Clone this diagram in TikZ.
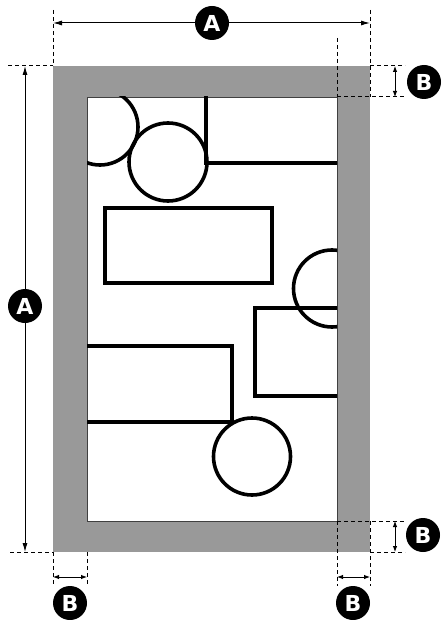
\documentclass[tikz,border=0pt]{standalone}
\usepackage{fontspec}
\setsansfont{DejaVu Sans}
\usetikzlibrary{arrows.meta}
\definecolor{framegray}{RGB}{153,153,153}
\begin{document}
\begin{tikzpicture}[x=1pt,y=-1pt,
  dimline/.style={line width=1pt,{Latex[length=9pt,width=5pt]}-{Latex[length=9pt,width=5pt]}},
  smalldim/.style={line width=0.9pt,{Latex[length=6pt,width=4.5pt]}-{Latex[length=6pt,width=4.5pt]}},
  extline/.style={line width=1pt,dash pattern=on 4pt off 3pt},
  badge/.style={circle,fill=black,text=white,minimum size=34pt,inner sep=0pt,
    font=\sffamily\bfseries\fontsize{22}{22}\selectfont},
  figline/.style={line width=3.6pt}]
\useasboundingbox (0,0) rectangle (446,620);
% frame
\coordinate (OTL) at (53,66);
\coordinate (OBR) at (370,552);
\coordinate (ITL) at (87,97);
\coordinate (IBR) at (337,521);
\fill[framegray] (OTL) rectangle (OBR);
\filldraw[fill=white,draw=black!75,line width=0.9pt] (ITL) rectangle (IBR);
% contents
\begin{scope}
  \clip (ITL) rectangle (IBR);
  \draw[figline] (100,127) circle (38);
  \draw[figline] (168,162) circle (39);
  \draw[figline] (206,95) -- (206,163) -- (339,163);
  \draw[figline] (105,208) rectangle (272,283);
  \draw[figline] (332,288.5) circle (38.5);
  \draw[figline] (339,308) -- (255,308) -- (255,396) -- (339,396);
  \draw[figline] (85,346) -- (232,346) -- (232,422) -- (85,422);
  \draw[figline] (252,456.5) circle (38.5);
\end{scope}
% extension lines
\coordinate (e1a) at (53,10);   \coordinate (e1b) at (53,66);
\coordinate (e2a) at (370,10);  \coordinate (e2b) at (370,97);
\coordinate (e3a) at (337,38);  \coordinate (e3b) at (337,97);
\coordinate (e4a) at (8,66);    \coordinate (e4b) at (405,66);
\coordinate (e5a) at (337,97);  \coordinate (e5b) at (405,97);
\coordinate (e6a) at (337,521); \coordinate (e6b) at (405,521);
\coordinate (e7a) at (10,552);  \coordinate (e7b) at (405,552);
\coordinate (e8a) at (53,552);  \coordinate (e8b) at (53,586);
\coordinate (e9a) at (87,521);  \coordinate (e9b) at (87,586);
\coordinate (e10a) at (337,521);\coordinate (e10b) at (337,586);
\coordinate (e11a) at (370,521);\coordinate (e11b) at (370,586);
\draw[extline] (e1a) -- (e1b);
\draw[extline] (e2a) -- (e2b);
\draw[extline] (e3a) -- (e3b);
\draw[extline] (e4a) -- (OTL);
\draw[extline] (370,66) -- (e4b);
\draw[extline] (e5a) -- (e5b);
\draw[extline] (e6a) -- (e6b);
\draw[extline] (e7a) -- (53,552);
\draw[extline] (OBR) -- (e7b);
\draw[extline] (e8a) -- (e8b);
\draw[extline] (87,552) -- (e9b);
\draw[extline] (e10a) -- (e10b);
\draw[extline] (e11a) -- (e11b);
% dimension arrows
\coordinate (a1) at (53,23);  \coordinate (a2) at (370,23);
\coordinate (a3) at (25,66);  \coordinate (a4) at (25,552);
\coordinate (b1) at (395,66); \coordinate (b2) at (395,97);
\coordinate (b3) at (395,521);\coordinate (b4) at (395,552);
\coordinate (b5) at (53,577); \coordinate (b6) at (87,577);
\coordinate (b7) at (337,577);\coordinate (b8) at (370,577);
\draw[dimline] (a1) -- (a2);
\draw[dimline] (a3) -- (a4);
\draw[smalldim] (b1) -- (b2);
\draw[smalldim] (b3) -- (b4);
\draw[smalldim] (b5) -- (b6);
\draw[smalldim] (b7) -- (b8);
% badges
\node[badge] (LA1) at (212,23) {A};
\node[badge] (LA2) at (25,306) {A};
\node[badge] (LB1) at (424,82) {B};
\node[badge] (LB2) at (423,535) {B};
\node[badge] (LB3) at (70,603) {B};
\node[badge] (LB4) at (353,603) {B};
\end{tikzpicture}
\end{document}
